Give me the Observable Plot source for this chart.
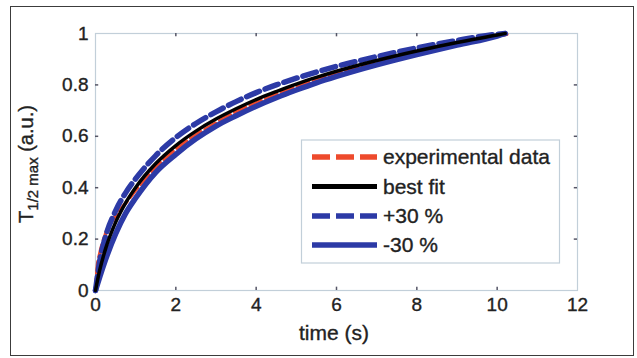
<!DOCTYPE html>
<html><head><meta charset="utf-8">
<script src="https://cdn.jsdelivr.net/npm/d3@7"></script>
<script src="https://cdn.jsdelivr.net/npm/@observablehq/plot@0.6"></script>
<style>
body{margin:0;background:#fff;}
#wrap{position:relative;width:637px;height:358px;overflow:hidden;font-family:"Liberation Sans",Arial,sans-serif;}
#frame{position:absolute;left:10px;top:6px;width:622px;height:348px;border:1.5px solid #3c3c3c;pointer-events:none;}
#wrap svg{position:absolute;left:0;top:0;}
#wrap svg text{stroke:#222;stroke-width:0.35px;}
</style></head><body><div id="wrap"><div id="frame"></div></div>
<script>
// x ticks / y ticks
const xTicks = [0, 2, 4, 6, 8, 10, 12];
const yTicks = [0, 0.2, 0.4, 0.6, 0.8, 1];
const yTickLabels = ["0", "0.2", "0.4", "0.6", "0.8", "1"];

// experimental data (red dashed)
const expTime  = [0, 0.05, 0.1, 0.25, 0.5, 0.75, 1, 1.5, 2, 2.5, 3, 3.5, 4, 4.5, 5, 5.5, 6, 7, 8, 9, 10, 10.35];
const expValue = [0, 0.10, 0.14, 0.22, 0.29, 0.34, 0.39, 0.48, 0.55, 0.605, 0.652, 0.695, 0.73, 0.763, 0.793, 0.82, 0.845, 0.888, 0.926, 0.96, 0.99, 1.0];

// fits
const fitTime = [0, 0.1, 0.25, 0.5, 0.75, 1, 1.5, 2, 2.5, 3, 3.5, 4, 4.5, 5, 5.5, 6, 7, 8, 9, 10, 10.2];
const bestFit = [0, 0.076, 0.162, 0.265, 0.341, 0.401, 0.494, 0.564, 0.620, 0.667, 0.707, 0.743, 0.774, 0.803, 0.829, 0.853, 0.895, 0.932, 0.965, 0.994, 1.0];
const plus30  = [0, 0.11, 0.21, 0.31, 0.38, 0.435, 0.525, 0.595, 0.65, 0.695, 0.735, 0.77, 0.80, 0.826, 0.85, 0.872, 0.91, 0.944, 0.973, 0.997, 1.0];
const minus30 = [0, 0.05, 0.12, 0.22, 0.30, 0.36, 0.46, 0.53, 0.59, 0.64, 0.68, 0.717, 0.75, 0.78, 0.808, 0.833, 0.878, 0.918, 0.955, 0.99, 1.0];

const legendLabels = ["experimental data", "best fit", "+30 %", "-30 %"];

const RED = "#ee4a2c", BLUE = "#2c3aa6", AXIS = "#c2cfd9";

const expData = expTime.map((t, i) => ({t, v: expValue[i]}));
const fitRows = (arr) => fitTime.map((t, i) => ({t, v: arr[i]}));

const innerX = xTicks.slice(1, -1);
const innerY = yTicks.slice(1, -1);

const chart = Plot.plot({
  width: 637, height: 358,
  marginLeft: 95, marginRight: 60, marginTop: 33, marginBottom: 68,
  style: {fontFamily: '"Liberation Sans", Arial, sans-serif', fontSize: "19px", color: "#222", background: "transparent"},
  x: {domain: [0, 12], ticks: xTicks},
  y: {domain: [0, 1], ticks: yTicks},
  marks: [
    Plot.frame({stroke: AXIS, strokeWidth: 1.2}),
    Plot.ruleX(innerX, {x: d => d, y1: 0, y2: 0.013, stroke: "#556", strokeWidth: 1.5}),
    Plot.ruleX(innerX, {x: d => d, y1: 0.987, y2: 1, stroke: "#556", strokeWidth: 1.5}),
    Plot.ruleY(innerY, {y: d => d, x1: 0, x2: 0.08, stroke: "#556", strokeWidth: 1.5}),
    Plot.ruleY(innerY, {y: d => d, x1: 11.92, x2: 12, stroke: "#556", strokeWidth: 1.5}),
    Plot.line(expData, {x: "t", y: "v", stroke: RED, strokeWidth: 3.5, strokeDasharray: "12,5", curve: "monotone-x"}),
    Plot.line(fitRows(minus30), {x: "t", y: "v", stroke: BLUE, strokeWidth: 5.5, curve: "monotone-x"}),
    Plot.line(fitRows(plus30), {x: "t", y: "v", stroke: BLUE, strokeWidth: 5.5, strokeDasharray: "14,6", curve: "monotone-x"}),
    Plot.line(fitRows(bestFit), {x: "t", y: "v", stroke: "#000", strokeWidth: 3.5, curve: "monotone-x"}),
    Plot.axisX({ticks: xTicks, tickSize: 0, tickPadding: 7, label: null, fill: "#222"}),
    Plot.axisY({ticks: yTicks, tickSize: 0, tickPadding: 7, label: null, tickFormat: (d, i) => yTickLabels[i], fill: "#222"})
  ]
});

document.getElementById("wrap").prepend(chart);
const svg = d3.select(chart);

// x label
svg.append("text").attr("x", 334).attr("y", 340).attr("text-anchor", "middle")
  .attr("font-size", 21).attr("fill", "#222").text("time (s)");

// y label with subscript
const yl = svg.append("text").attr("transform", "translate(33,164) rotate(-90)")
  .attr("text-anchor", "middle").attr("font-size", 20).attr("fill", "#222");
yl.append("tspan").text("T");
yl.append("tspan").attr("font-size", 15).attr("dy", 5).text("1/2 max");
yl.append("tspan").attr("dy", -5).text("\u00a0(a.u.)");

// legend
const lg = svg.append("g").attr("text-anchor", "start");
lg.append("rect").attr("x", 301.5).attr("y", 140).attr("width", 258).attr("height", 123)
  .attr("fill", "#fff").attr("stroke", AXIS).attr("stroke-width", 1.2);
const styles = [
  {stroke: RED, dash: "18,6", w: 5.5},
  {stroke: "#000", dash: null, w: 5},
  {stroke: BLUE, dash: "18,6", w: 5.5},
  {stroke: BLUE, dash: null, w: 5.5}
];
const rowY = [157, 186.5, 216, 245];
legendLabels.forEach((lab, i) => {
  const s = styles[i];
  const ln = lg.append("line").attr("x1", 312).attr("x2", 377).attr("y1", rowY[i]).attr("y2", rowY[i])
    .attr("stroke", s.stroke).attr("stroke-width", s.w);
  if (s.dash) ln.attr("stroke-dasharray", s.dash);
  lg.append("text").attr("x", 383).attr("y", rowY[i]).attr("dy", "0.35em")
    .attr("text-anchor", "start").attr("font-size", 21).attr("fill", "#222").text(lab);
});
</script>
</body></html>
